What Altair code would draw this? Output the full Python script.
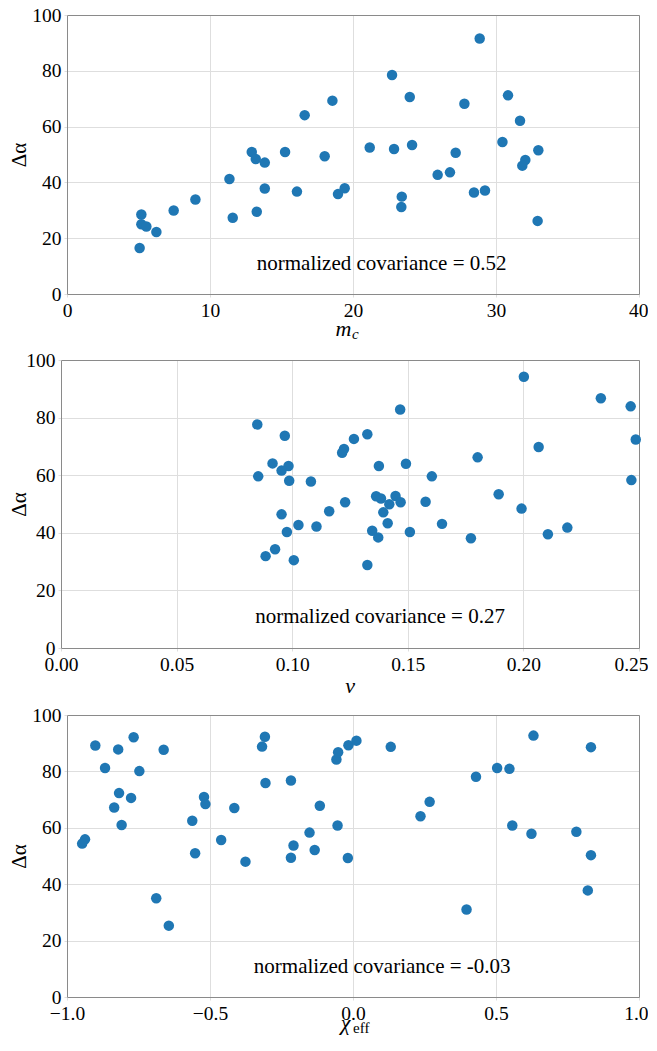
import altair as alt
import pandas as pd

# ---------------- data ----------------
mc = [5.2, 5.2, 5.55, 5.08, 6.25, 7.46, 8.98, 11.36, 11.59, 12.92, 13.2, 13.83, 13.83, 13.27,
      15.25, 16.08, 16.62, 18.56, 18.02, 18.95, 19.42, 21.17, 22.73, 22.87, 23.97, 24.13, 23.41,
      23.38, 25.92, 26.78, 27.18, 27.79, 28.86, 28.46, 29.23, 30.45, 30.84, 31.68, 32.96, 32.05,
      31.84, 32.91]
dalpha_mc = [28.5, 25.0, 24.2, 16.5, 22.2, 29.9, 33.9, 41.2, 27.3, 50.9, 48.4, 47.1, 37.8, 29.5,
             50.9, 36.7, 64.1, 69.3, 49.4, 35.8, 37.9, 52.5, 78.5, 52.0, 70.6, 53.4, 34.9,
             31.2, 42.7, 43.6, 50.6, 68.2, 91.6, 36.4, 37.1, 54.5, 71.2, 62.1, 51.5, 48.0,
             46.0, 26.2]

nu = [0.0849, 0.0968, 0.1267, 0.1224, 0.1216, 0.0915, 0.0984, 0.0954, 0.0853, 0.0987, 0.1081,
      0.1229, 0.1160, 0.0954, 0.1027, 0.1105, 0.0977, 0.0926, 0.0885, 0.1007,
      0.2002, 0.2335, 0.2464, 0.2486, 0.2467, 0.1467, 0.1325, 0.2066, 0.1802, 0.1492, 0.1375,
      0.1604, 0.1893, 0.1363, 0.1384, 0.1447, 0.1469, 0.1420, 0.1577, 0.1992, 0.1394, 0.1413,
      0.1648, 0.1346, 0.1372, 0.1509, 0.1773, 0.2106, 0.2190, 0.1325]
dalpha_nu = [77.6, 73.7, 72.6, 69.1, 67.8, 64.1, 63.2, 61.6, 59.6, 58.1, 57.8,
             50.6, 47.5, 46.4, 42.7, 42.2, 40.3, 34.3, 31.9, 30.5,
             94.2, 86.7, 83.9, 72.4, 58.3, 82.8, 74.2, 69.8, 66.2, 64.0, 63.2,
             59.6, 53.4, 52.7, 51.9, 52.8, 50.6, 49.9, 50.8, 48.4, 47.1, 43.3,
             43.1, 40.7, 38.4, 40.3, 38.1, 39.5, 41.8, 28.8]

chi_eff = [-0.901, -0.767, -0.821, -0.662, -0.867, -0.747, -0.818, -0.776, -0.835, -0.809,
           -0.937, -0.947, -0.688, -0.644, -0.308, -0.318, -0.306, -0.217, -0.521, -0.516,
           -0.415, -0.116, -0.562, -0.054, -0.152, -0.461, -0.208, -0.552, -0.134, -0.376,
           -0.217, -0.018, -0.058, -0.052, -0.016, 0.012,
           0.132, 0.631, 0.832, 0.430, 0.504, 0.547, 0.268, 0.236, 0.557, 0.624, 0.781,
           0.832, 0.821, 0.397]
dalpha_chi = [89.2, 92.1, 87.8, 87.7, 81.2, 80.1, 72.3, 70.6, 67.2, 61.0,
              55.9, 54.4, 35.0, 25.3, 92.3, 88.8, 75.9, 76.8, 70.9, 68.4,
              67.0, 67.8, 62.5, 60.8, 58.3, 55.7, 53.7, 51.0, 52.1, 48.0,
              49.4, 49.3, 84.2, 86.8, 89.3, 90.9,
              88.7, 92.7, 88.6, 78.1, 81.2, 80.9, 69.2, 64.1, 60.8, 57.9, 58.6,
              50.3, 37.8, 31.0]

y_ticks = [0, 20, 40, 60, 80, 100]
mc_ticks = [0, 10, 20, 30, 40]
nu_ticks = [0.0, 0.05, 0.10, 0.15, 0.20, 0.25]
chi_ticks = [-1.0, -0.5, 0.0, 0.5, 1.0]

annotations = ["normalized covariance = 0.52",
               "normalized covariance = 0.27",
               "normalized covariance = -0.03"]
# annotation anchor in data units (x, y)
anno_pos = [(22.0, 10.6), (0.138, 10.6), (0.102, 10.5)]

# ---------------- style ----------------
FONT = "Liberation Serif"
BLUE = "#1f77b4"
SPINE = "#8a8a8a"
GRID = "#dedede"
LABEL_SIZE = 19.5
W = 572


def y_axis(offset, title_pad):
    return alt.Axis(orient="left", values=y_ticks, title="Δα", titleFont=FONT,
                    titleFontSize=21, titleFontWeight="normal", titleColor="black",
                    titlePadding=title_pad, labelFont=FONT, labelFontSize=LABEL_SIZE,
                    labelColor="black", labelPadding=3, tickSize=3, tickColor=GRID,
                    domainColor=SPINE, gridColor=GRID, offset=offset)


def x_axis(ticks, fmt):
    last = ticks[-1]
    test = f"datum.value >= {last} - 1e-9"
    return alt.Axis(orient="bottom", values=ticks, format=fmt, title=None, labelFont=FONT,
                    labelFontSize=LABEL_SIZE, labelColor="black", labelPadding=4,
                    labelFlush=False,
                    labelAlign={"condition": {"test": test, "value": "right"},
                                "value": "center"},
                    labelOffset={"condition": {"test": test, "value": 9}, "value": 0},
                    tickSize=3, tickColor=GRID, domainColor=SPINE, gridColor=GRID)


def panel(xs, ys, domain, ticks, fmt, height, anno, apos, title_parts,
          xrange=None, yoffset=0, title_pad=1):
    df = pd.DataFrame({"x": xs, "y": ys})
    sx = dict(domain=domain, nice=False, zero=False)
    if xrange is not None:
        sx["range"] = xrange
    xscale = alt.Scale(**sx)
    yscale = alt.Scale(domain=[0, 100], nice=False, zero=False)

    pts = alt.Chart(df).mark_circle(size=110, color=BLUE, opacity=1).encode(
        x=alt.X("x:Q", scale=xscale, axis=x_axis(ticks, fmt)),
        y=alt.Y("y:Q", scale=yscale, axis=y_axis(yoffset, title_pad)),
    )
    frame = alt.Chart(df).mark_point(opacity=0).encode(
        x=alt.X("x:Q", axis=alt.Axis(orient="top", labels=False, ticks=False, grid=False,
                                     title=None, domainColor=SPINE)),
        y=alt.Y("y:Q", axis=alt.Axis(orient="right", labels=False, ticks=False, grid=False,
                                     title=None, domainColor=SPINE)),
    )
    adf = pd.DataFrame({"x": [apos[0]], "y": [apos[1]], "t": [anno]})
    text = alt.Chart(adf).mark_text(font=FONT, fontSize=21, color="black",
                                    align="center", baseline="middle").encode(
        x=alt.X("x:Q", axis=None), y=alt.Y("y:Q", axis=None), text="t:N")
    layers = [pts, frame, text]
    for (s, size, style, align, dx, dy) in title_parts:
        tdf = pd.DataFrame({"t": [s]})
        layers.append(
            alt.Chart(tdf).mark_text(font=FONT, fontSize=size, fontStyle=style,
                                     color="black", align=align,
                                     baseline="alphabetic").encode(
                x=alt.value(W / 2 + dx), y=alt.value(height + dy), text="t:N"))
    return alt.layer(*layers).properties(width=W, height=height)


H1, H2, H3 = 279, 288, 282

p1 = panel(mc, dalpha_mc, [0, 40], mc_ticks, "d", H1, annotations[0], anno_pos[0],
           [("m", 22, "italic", "center", -9.5, 42), ("c", 15, "italic", "left", -1, 45)],
           title_pad=2.75)
p2 = panel(nu, dalpha_nu, [0, 0.25], nu_ticks, ".2f", H2, annotations[1], anno_pos[1],
           [("ν", 22, "italic", "center", -3, 45)],
           xrange=[-6, W], yoffset=6, title_pad=-3.25)
p3 = panel(chi_eff, dalpha_chi, [-1, 1], chi_ticks, ".1f", H3, annotations[2], anno_pos[2],
           [("χ", 22, "italic", "center", -7.5, 33), ("eff", 15, "normal", "left", 0, 36)],
           title_pad=2.75)

chart = alt.vconcat(p1, p2, p3, spacing=8).properties(
    padding={"left": 0, "top": -3, "right": 0, "bottom": -1},
    background="white",
).configure(font=FONT).configure_view(strokeWidth=0)

chart.save("out.html", embed_options={"renderer": "svg", "actions": False})
